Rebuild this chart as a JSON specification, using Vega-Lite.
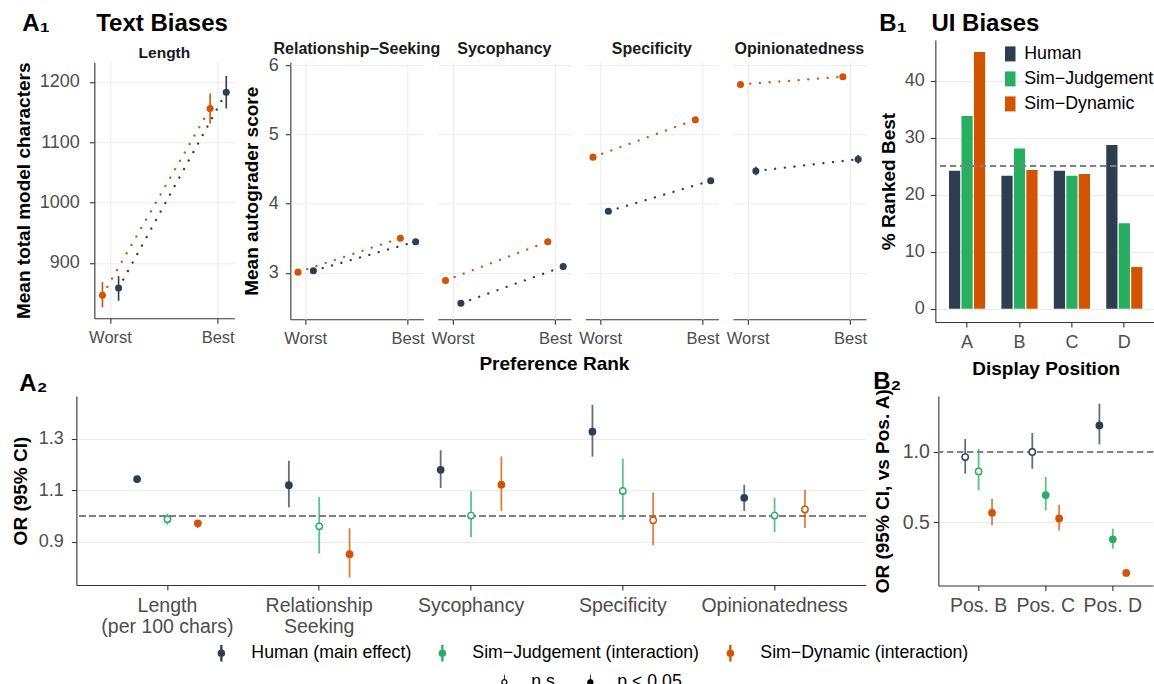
{
  "$schema": "https://vega.github.io/schema/vega-lite/v6.json",
  "background": "white",
  "padding": {"left": 11, "top": 12, "right": 0, "bottom": 0},
  "config": {
    "font": "Liberation Sans",
    "view": {"stroke": null},
    "axis": {"domainColor": "#333333", "domainWidth": 1.1, "tickColor": "#333333", "tickSize": 5, "tickWidth": 1.1, "labelColor": "#4D4D4D", "labelFontSize": 17, "labelPadding": 6, "titleFontSize": 19, "titleFontWeight": "bold", "titleColor": "#000000", "titlePadding": 6, "gridColor": "#EBEBEB", "gridWidth": 1.1},
    "header": {"labelFontSize": 16, "labelFontWeight": "bold", "labelColor": "#1A1A1A", "labelPadding": 5},
    "title": {"fontSize": 24, "fontWeight": "bold", "color": "#000000", "anchor": "start", "frame": "bounds"},
    "legend": {"labelFontSize": 17.7, "labelColor": "#000000", "padding": 0, "labelLimit": 400}
  },
  "datasets": {
    "a1": [
      {"panel": "Length", "rank": "Worst", "series": "Sim-Dynamic", "mean": 846, "lo": 826, "hi": 868},
      {"panel": "Length", "rank": "Worst", "series": "Human", "mean": 858, "lo": 837, "hi": 878},
      {"panel": "Length", "rank": "Best", "series": "Sim-Dynamic", "mean": 1156, "lo": 1131, "hi": 1181},
      {"panel": "Length", "rank": "Best", "series": "Human", "mean": 1183, "lo": 1156, "hi": 1210},
      {"panel": "Relationship\u2212Seeking", "rank": "Worst", "series": "Sim-Dynamic", "mean": 3.01, "lo": 2.98, "hi": 3.04},
      {"panel": "Relationship\u2212Seeking", "rank": "Worst", "series": "Human", "mean": 3.03, "lo": 3.0, "hi": 3.06},
      {"panel": "Relationship\u2212Seeking", "rank": "Best", "series": "Sim-Dynamic", "mean": 3.5, "lo": 3.47, "hi": 3.53},
      {"panel": "Relationship\u2212Seeking", "rank": "Best", "series": "Human", "mean": 3.45, "lo": 3.42, "hi": 3.48},
      {"panel": "Sycophancy", "rank": "Worst", "series": "Sim-Dynamic", "mean": 2.89, "lo": 2.86, "hi": 2.92},
      {"panel": "Sycophancy", "rank": "Worst", "series": "Human", "mean": 2.56, "lo": 2.53, "hi": 2.59},
      {"panel": "Sycophancy", "rank": "Best", "series": "Sim-Dynamic", "mean": 3.45, "lo": 3.42, "hi": 3.48},
      {"panel": "Sycophancy", "rank": "Best", "series": "Human", "mean": 3.09, "lo": 3.04, "hi": 3.14},
      {"panel": "Specificity", "rank": "Worst", "series": "Sim-Dynamic", "mean": 4.67, "lo": 4.64, "hi": 4.7},
      {"panel": "Specificity", "rank": "Worst", "series": "Human", "mean": 3.89, "lo": 3.86, "hi": 3.92},
      {"panel": "Specificity", "rank": "Best", "series": "Sim-Dynamic", "mean": 5.21, "lo": 5.18, "hi": 5.24},
      {"panel": "Specificity", "rank": "Best", "series": "Human", "mean": 4.33, "lo": 4.3, "hi": 4.36},
      {"panel": "Opinionatedness", "rank": "Worst", "series": "Sim-Dynamic", "mean": 5.72, "lo": 5.69, "hi": 5.75},
      {"panel": "Opinionatedness", "rank": "Worst", "series": "Human", "mean": 4.47, "lo": 4.41, "hi": 4.53},
      {"panel": "Opinionatedness", "rank": "Best", "series": "Sim-Dynamic", "mean": 5.83, "lo": 5.8, "hi": 5.86},
      {"panel": "Opinionatedness", "rank": "Best", "series": "Human", "mean": 4.64, "lo": 4.58, "hi": 4.7}
    ],
    "b1": [
      {"pos": "A", "series": "Human", "pct": 24.2},
      {"pos": "A", "series": "Sim\u2212Judgement", "pct": 33.8},
      {"pos": "A", "series": "Sim\u2212Dynamic", "pct": 45.0},
      {"pos": "B", "series": "Human", "pct": 23.3},
      {"pos": "B", "series": "Sim\u2212Judgement", "pct": 28.1},
      {"pos": "B", "series": "Sim\u2212Dynamic", "pct": 24.3},
      {"pos": "C", "series": "Human", "pct": 24.2},
      {"pos": "C", "series": "Sim\u2212Judgement", "pct": 23.3},
      {"pos": "C", "series": "Sim\u2212Dynamic", "pct": 23.6},
      {"pos": "D", "series": "Human", "pct": 28.7},
      {"pos": "D", "series": "Sim\u2212Judgement", "pct": 15.0},
      {"pos": "D", "series": "Sim\u2212Dynamic", "pct": 7.3}
    ],
    "a2": [
      {"cat": "Length\n(per 100 chars)", "series": "Human", "or": 1.143, "lo": 1.135, "hi": 1.152, "sig": "p < 0.05"},
      {"cat": "Length\n(per 100 chars)", "series": "Sim\u2212Judgement", "or": 0.987, "lo": 0.965, "hi": 1.009, "sig": "n.s."},
      {"cat": "Length\n(per 100 chars)", "series": "Sim\u2212Dynamic", "or": 0.971, "lo": 0.952, "hi": 0.984, "sig": "p < 0.05"},
      {"cat": "Relationship\nSeeking", "series": "Human", "or": 1.119, "lo": 1.033, "hi": 1.214, "sig": "p < 0.05"},
      {"cat": "Relationship\nSeeking", "series": "Sim\u2212Judgement", "or": 0.959, "lo": 0.853, "hi": 1.074, "sig": "n.s."},
      {"cat": "Relationship\nSeeking", "series": "Sim\u2212Dynamic", "or": 0.851, "lo": 0.76, "hi": 0.952, "sig": "p < 0.05"},
      {"cat": "Sycophancy", "series": "Human", "or": 1.179, "lo": 1.108, "hi": 1.255, "sig": "p < 0.05"},
      {"cat": "Sycophancy", "series": "Sim\u2212Judgement", "or": 1.001, "lo": 0.917, "hi": 1.096, "sig": "n.s."},
      {"cat": "Sycophancy", "series": "Sim\u2212Dynamic", "or": 1.121, "lo": 1.019, "hi": 1.231, "sig": "p < 0.05"},
      {"cat": "Specificity", "series": "Human", "or": 1.327, "lo": 1.23, "hi": 1.432, "sig": "p < 0.05"},
      {"cat": "Specificity", "series": "Sim\u2212Judgement", "or": 1.097, "lo": 0.984, "hi": 1.223, "sig": "n.s."},
      {"cat": "Specificity", "series": "Sim\u2212Dynamic", "or": 0.983, "lo": 0.886, "hi": 1.091, "sig": "n.s."},
      {"cat": "Opinionatedness", "series": "Human", "or": 1.07, "lo": 1.019, "hi": 1.121, "sig": "p < 0.05"},
      {"cat": "Opinionatedness", "series": "Sim\u2212Judgement", "or": 1.001, "lo": 0.936, "hi": 1.07, "sig": "n.s."},
      {"cat": "Opinionatedness", "series": "Sim\u2212Dynamic", "or": 1.025, "lo": 0.953, "hi": 1.101, "sig": "n.s."}
    ],
    "b2": [
      {"cat": "Pos. B", "series": "Human", "or": 0.962, "lo": 0.844, "hi": 1.09, "sig": "n.s."},
      {"cat": "Pos. B", "series": "Sim\u2212Judgement", "or": 0.86, "lo": 0.725, "hi": 1.019, "sig": "n.s."},
      {"cat": "Pos. B", "series": "Sim\u2212Dynamic", "or": 0.566, "lo": 0.476, "hi": 0.666, "sig": "p < 0.05"},
      {"cat": "Pos. C", "series": "Human", "or": 0.998, "lo": 0.879, "hi": 1.133, "sig": "n.s."},
      {"cat": "Pos. C", "series": "Sim\u2212Judgement", "or": 0.692, "lo": 0.583, "hi": 0.82, "sig": "p < 0.05"},
      {"cat": "Pos. C", "series": "Sim\u2212Dynamic", "or": 0.526, "lo": 0.44, "hi": 0.623, "sig": "p < 0.05"},
      {"cat": "Pos. D", "series": "Human", "or": 1.187, "lo": 1.052, "hi": 1.341, "sig": "p < 0.05"},
      {"cat": "Pos. D", "series": "Sim\u2212Judgement", "or": 0.377, "lo": 0.311, "hi": 0.453, "sig": "p < 0.05"},
      {"cat": "Pos. D", "series": "Sim\u2212Dynamic", "or": 0.138, "lo": 0.125, "hi": 0.152, "sig": "p < 0.05"}
    ]
  },
  "center": true,
  "spacing": -50,
  "resolve": {"scale": {"color": "independent", "xOffset": "independent", "shape": "independent"}},
  "vconcat": [
    {
      "center": true,
      "spacing": 11,
      "resolve": {"scale": {"color": "independent", "xOffset": "independent"}},
      "hconcat": [
        {
          "spacing": 7,
          "resolve": {"scale": {"xOffset": "independent"}},
          "hconcat": [
            {
              "data": {"name": "a1"},
              "transform": [{"filter": "datum.panel == 'Length'"}],
              "width": 140,
              "height": 256,
              "title": {"text": "A\u2081\u00a0\u00a0\u00a0\u00a0\u00a0\u00a0\u00a0Text Biases", "subtitle": "\u200b\u00a0\u00a0\u00a0\u00a0\u00a0\u00a0\u00a0\u00a0\u00a0\u00a0\u00a0\u00a0\u00a0\u00a0\u00a0\u00a0\u00a0\u00a0\u00a0\u00a0\u00a0\u00a0\u00a0\u00a0\u00a0\u00a0\u00a0Length", "dx": 8, "offset": 0, "subtitleFontSize": 15.5, "subtitleFontWeight": "bold", "subtitleColor": "#1A1A1A", "subtitlePadding": 10, "subtitleFont": "Liberation Sans"},
              "layer": [
                {
                  "mark": {"type": "line", "strokeDash": [0.1, 9.6], "strokeWidth": 2.3, "strokeCap": "round"},
                  "encoding": {
                    "x": {"field": "rank", "type": "nominal", "sort": ["Worst", "Best"], "scale": {"type": "band", "paddingInner": 0.7, "paddingOuter": 0}, "axis": {"title": null, "labelAngle": 0, "grid": true, "labelFontSize": 16.5, "bandPosition": 0.5}},
                    "xOffset": {"field": "series", "type": "nominal", "scale": {"domain": ["Sim-Dynamic", "Human"], "paddingInner": 0, "paddingOuter": 0}},
                    "y": {"field": "mean", "type": "quantitative", "title": "Mean total model characters", "scale": {"domain": [808, 1232.7], "zero": false, "nice": false}, "axis": {"values": [900, 1000, 1100, 1200], "format": "d", "grid": true, "labelFontSize": 18, "labelPadding": 10}},
                    "color": {"field": "series", "type": "nominal", "scale": {"domain": ["Human", "Sim-Dynamic"], "range": ["#2C3E50", "#D35400"]}, "legend": null}
                  }
                },
                {
                  "mark": {"type": "rule", "strokeWidth": 1.6},
                  "encoding": {
                    "x": {"field": "rank", "type": "nominal", "sort": ["Worst", "Best"]},
                    "xOffset": {"field": "series", "type": "nominal"},
                    "y": {"field": "lo", "type": "quantitative", "title": "Mean total model characters"},
                    "y2": {"field": "hi"},
                    "color": {"field": "series", "type": "nominal", "legend": null}
                  }
                },
                {
                  "mark": {"type": "point", "filled": true, "size": 50, "opacity": 1},
                  "encoding": {
                    "x": {"field": "rank", "type": "nominal", "sort": ["Worst", "Best"]},
                    "xOffset": {"field": "series", "type": "nominal"},
                    "y": {"field": "mean", "type": "quantitative", "title": "Mean total model characters"},
                    "color": {"field": "series", "type": "nominal", "legend": null}
                  }
                }
              ]
            },
            {
              "data": {"name": "a1"},
              "transform": [{"filter": "datum.panel != 'Length'"}],
              "title": {"text": "Preference Rank", "orient": "bottom", "anchor": "middle", "frame": "bounds", "fontSize": 19, "offset": 8},
              "facet": {"column": {"field": "panel", "type": "nominal", "sort": ["Relationship\u2212Seeking", "Sycophancy", "Specificity", "Opinionatedness"], "title": null, "header": {"labelFontSize": 16, "labelPadding": 5}}},
              "spacing": 14.5,
              "spec": {
                "width": 133,
                "height": 257,
                "layer": [
                  {
                    "mark": {"type": "line", "strokeDash": [0.1, 9.6], "strokeWidth": 2.3, "strokeCap": "round"},
                    "encoding": {
                      "x": {"field": "rank", "type": "nominal", "sort": ["Worst", "Best"], "scale": {"type": "band", "paddingInner": 0.7, "paddingOuter": 0}, "axis": {"title": null, "labelAngle": 0, "grid": true, "labelFontSize": 16.5, "bandPosition": 0.5}},
                      "xOffset": {"field": "series", "type": "nominal", "scale": {"domain": ["Sim-Dynamic", "Human"], "paddingInner": 0, "paddingOuter": 0}},
                      "y": {"field": "mean", "type": "quantitative", "title": "Mean autograder score", "scale": {"domain": [2.33, 6.04], "zero": false, "nice": false}, "axis": {"values": [3, 4, 5, 6], "format": "d", "grid": true, "labelFontSize": 18, "labelPadding": 7, "titlePadding": 7}},
                      "color": {"field": "series", "type": "nominal", "scale": {"domain": ["Human", "Sim-Dynamic"], "range": ["#2C3E50", "#D35400"]}, "legend": null}
                    }
                  },
                  {
                    "mark": {"type": "rule", "strokeWidth": 1.6},
                    "encoding": {
                      "x": {"field": "rank", "type": "nominal", "sort": ["Worst", "Best"]},
                      "xOffset": {"field": "series", "type": "nominal"},
                      "y": {"field": "lo", "type": "quantitative", "title": "Mean autograder score"},
                      "y2": {"field": "hi"},
                      "color": {"field": "series", "type": "nominal", "legend": null}
                    }
                  },
                  {
                    "mark": {"type": "point", "filled": true, "size": 50, "opacity": 1},
                    "encoding": {
                      "x": {"field": "rank", "type": "nominal", "sort": ["Worst", "Best"]},
                      "xOffset": {"field": "series", "type": "nominal"},
                      "y": {"field": "mean", "type": "quantitative", "title": "Mean autograder score"},
                      "color": {"field": "series", "type": "nominal", "legend": null}
                    }
                  }
                ]
              }
            }
          ]
        },
        {
          "data": {"name": "b1"},
          "width": 220.7,
          "height": 282,
          "title": {"text": "B\u2081\u00a0\u00a0\u00a0\u2009UI Biases", "offset": 4},
          "layer": [
            {
              "mark": {"type": "bar"},
              "encoding": {
                "x": {"field": "pos", "type": "nominal", "scale": {"paddingInner": 0.31, "paddingOuter": 0.26}, "axis": {"title": ["Display Position", "\u200b"], "titleLineHeight": 18, "labelAngle": 0, "labelFontSize": 18, "grid": false, "titlePadding": 8}},
                "xOffset": {"field": "series", "type": "nominal", "scale": {"domain": ["Human", "Sim\u2212Judgement", "Sim\u2212Dynamic"], "paddingInner": 0.1, "paddingOuter": 0}},
                "y": {"field": "pct", "type": "quantitative", "stack": null, "title": "% Ranked Best", "scale": {"domain": [-2.33, 47.1], "zero": false, "nice": false}, "axis": {"values": [0, 10, 20, 30, 40], "grid": true, "labelFontSize": 18, "titlePadding": 6}},
                "y2": {"datum": 0},
                "color": {"field": "series", "type": "nominal", "scale": {"domain": ["Human", "Sim\u2212Judgement", "Sim\u2212Dynamic"], "range": ["#2C3E50", "#27AE60", "#D35400"]}, "legend": {"orient": "none", "legendX": 66, "legendY": 5, "title": null, "symbolType": "M-0.7,-1h1.4v2h-1.4Z", "symbolSize": 225, "symbolStrokeWidth": 0, "labelFontSize": 17.8, "labelOffset": 5, "rowPadding": 6, "padding": 0}}
              }
            },
            {
              "mark": {"type": "rule", "strokeDash": [6, 4], "color": "#808080", "strokeWidth": 1.2},
              "encoding": {"y": {"datum": 25}}
            }
          ]
        }
      ]
    },
    {
      "spacing": 6,
      "resolve": {"scale": {"xOffset": "independent"}},
      "hconcat": [
        {
          "data": {"name": "a2"},
          "width": 789.3,
          "height": 189,
          "title": {"text": "A\u2082", "dx": 8, "offset": 0},
          "layer": [
            {
              "mark": {"type": "rule", "strokeDash": [6, 4], "color": "#808080", "strokeWidth": 1.2},
              "encoding": {"y": {"datum": 1}}
            },
            {
              "mark": {"type": "rule", "strokeWidth": 1.8, "strokeOpacity": 0.75},
              "encoding": {
                "x": {"field": "cat", "type": "nominal", "sort": ["Length\n(per 100 chars)", "Relationship\nSeeking", "Sycophancy", "Specificity", "Opinionatedness"], "scale": {"paddingInner": 0.4, "paddingOuter": 0.3}, "axis": {"title": null, "labelAngle": 0, "labelExpr": "split(datum.label, '\\n')", "labelFontSize": 19.5, "labelLineHeight": 21, "grid": false}},
                "xOffset": {"field": "series", "type": "nominal", "scale": {"domain": ["Human", "Sim\u2212Judgement", "Sim\u2212Dynamic"], "paddingInner": 0, "paddingOuter": 0}},
                "y": {"field": "lo", "type": "quantitative", "title": "OR (95% CI)", "scale": {"domain": [0.731, 1.466], "zero": false, "nice": false}, "axis": {"values": [0.9, 1.1, 1.3], "format": ".1f", "grid": true, "labelFontSize": 18, "titlePadding": 8, "labelPadding": 8}},
                "y2": {"field": "hi"},
                "color": {"field": "series", "type": "nominal", "scale": {"domain": ["Human", "Sim\u2212Judgement", "Sim\u2212Dynamic"], "range": ["#2C3E50", "#27AE60", "#D35400"]}}
              }
            },
            {
              "mark": {"type": "point", "filled": true, "size": 60, "opacity": 1},
              "encoding": {
                "x": {"field": "cat", "type": "nominal", "sort": ["Length\n(per 100 chars)", "Relationship\nSeeking", "Sycophancy", "Specificity", "Opinionatedness"]},
                "xOffset": {"field": "series", "type": "nominal"},
                "y": {"field": "or", "type": "quantitative", "title": "OR (95% CI)"},
                "color": {"field": "series", "type": "nominal", "legend": {"orient": "none", "legendX": 134, "legendY": 246, "direction": "horizontal", "title": null, "labelExpr": "datum.label == 'Human' ? 'Human (main effect)' : datum.label + ' (interaction)'", "symbolType": "M-0.04,-0.75h0.08v1.5h-0.08Z M0.3,0A0.3,0.3 0 1,1 -0.3,0A0.3,0.3 0 1,1 0.3,0Z", "symbolSize": 400, "symbolOpacity": 1, "labelOffset": 19, "columnPadding": 20, "padding": 0, "labelLimit": 400}}
              }
            },
            {
              "transform": [{"filter": "datum.sig == 'n.s.'"}],
              "mark": {"type": "point", "filled": true, "color": "#FFFFFF", "size": 24, "opacity": 1},
              "encoding": {
                "x": {"field": "cat", "type": "nominal", "sort": ["Length\n(per 100 chars)", "Relationship\nSeeking", "Sycophancy", "Specificity", "Opinionatedness"]},
                "xOffset": {"field": "series", "type": "nominal"},
                "y": {"field": "or", "type": "quantitative", "title": "OR (95% CI)"}
              }
            },
            {
              "mark": {"type": "point", "filled": true, "color": "#000000", "size": 0, "opacity": 1},
              "encoding": {
                "x": {"field": "cat", "type": "nominal", "sort": ["Length\n(per 100 chars)", "Relationship\nSeeking", "Sycophancy", "Specificity", "Opinionatedness"]},
                "xOffset": {"field": "series", "type": "nominal"},
                "y": {"field": "or", "type": "quantitative", "title": "OR (95% CI)"},
                "shape": {"field": "sig", "type": "nominal", "scale": {"domain": ["n.s.", "p < 0.05"], "range": ["M0.32,0A0.32,0.32 0 1,1 -0.32,0A0.32,0.32 0 1,1 0.32,0Z M0.19,0A0.19,0.19 0 1,0 -0.19,0A0.19,0.19 0 1,0 0.19,0Z M-0.04,-0.75h0.08v0.44h-0.08Z M-0.04,0.31h0.08v0.44h-0.08Z", "M-0.04,-0.75h0.08v1.5h-0.08Z M0.32,0A0.32,0.32 0 1,1 -0.32,0A0.32,0.32 0 1,1 0.32,0Z"]}, "legend": {"orient": "none", "legendX": 418, "legendY": 276, "direction": "horizontal", "title": null, "symbolSize": 400, "symbolFillColor": "#000000", "symbolStrokeWidth": 0, "symbolOpacity": 1, "labelOffset": 17, "columnPadding": 20, "padding": 0, "labelLimit": 400}}
              }
            }
          ]
        },
        {
          "data": {"name": "b2"},
          "width": 214.7,
          "height": 189.5,
          "title": {"text": "B\u2082\u00a0\u00a0\u00a0\u00a0\u00a0\u00a0\u00a0\u00a0\u00a0\u00a0\u00a0\u00a0\u00a0\u00a0\u00a0\u00a0\u00a0\u00a0\u00a0\u00a0\u00a0\u00a0\u00a0\u00a0\u00a0\u00a0\u00a0\u00a0\u00a0\u00a0\u00a0\u00a0\u00a0\u00a0\u00a0\u00a0\u00a0\u00a0\u00a0\u00a0\u00a0\u200b", "offset": -6},
          "layer": [
            {
              "mark": {"type": "rule", "strokeDash": [6, 4], "color": "#808080", "strokeWidth": 1.2},
              "encoding": {"y": {"datum": 1}}
            },
            {
              "mark": {"type": "rule", "strokeWidth": 1.8, "strokeOpacity": 0.75},
              "encoding": {
                "x": {"field": "cat", "type": "nominal", "sort": ["Pos. B", "Pos. C", "Pos. D"], "scale": {"paddingInner": 0.4, "paddingOuter": 0.3}, "axis": {"title": null, "labelAngle": 0, "labelFontSize": 19.5, "grid": false}},
                "xOffset": {"field": "series", "type": "nominal", "scale": {"domain": ["Human", "Sim\u2212Judgement", "Sim\u2212Dynamic"], "paddingInner": 0, "paddingOuter": 0}},
                "y": {"field": "lo", "type": "quantitative", "title": "OR (95% CI, vs Pos. A)", "scale": {"domain": [0.049, 1.396], "zero": false, "nice": false}, "axis": {"values": [0.5, 1.0], "format": ".1f", "grid": true, "labelFontSize": 19.5, "titlePadding": 10, "labelPadding": 4}},
                "y2": {"field": "hi"},
                "color": {"field": "series", "type": "nominal"}
              }
            },
            {
              "mark": {"type": "point", "filled": true, "size": 60, "opacity": 1},
              "encoding": {
                "x": {"field": "cat", "type": "nominal", "sort": ["Pos. B", "Pos. C", "Pos. D"]},
                "xOffset": {"field": "series", "type": "nominal"},
                "y": {"field": "or", "type": "quantitative", "title": "OR (95% CI, vs Pos. A)"},
                "color": {"field": "series", "type": "nominal"}
              }
            },
            {
              "transform": [{"filter": "datum.sig == 'n.s.'"}],
              "mark": {"type": "point", "filled": true, "color": "#FFFFFF", "size": 24, "opacity": 1},
              "encoding": {
                "x": {"field": "cat", "type": "nominal", "sort": ["Pos. B", "Pos. C", "Pos. D"]},
                "xOffset": {"field": "series", "type": "nominal"},
                "y": {"field": "or", "type": "quantitative", "title": "OR (95% CI, vs Pos. A)"}
              }
            }
          ]
        }
      ]
    }
  ]
}
